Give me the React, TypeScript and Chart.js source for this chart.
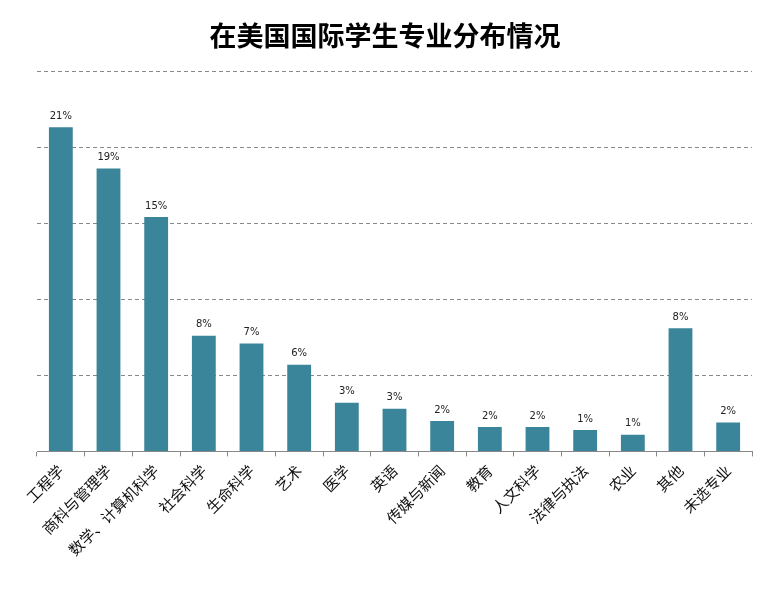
import React, { useEffect, useRef } from "react";
import { Chart, registerables } from "chart.js";

Chart.register(...registerables);

const TITLE = "在美国国际学生专业分布情况";
const categories = [
  "工程学",
  "商科与管理学",
  "数学、计算机科学",
  "社会科学",
  "生命科学",
  "艺术",
  "医学",
  "英语",
  "传媒与新闻",
  "教育",
  "人文科学",
  "法律与执法",
  "农业",
  "其他",
  "未选专业",
];
const shares = [21.3, 18.6, 15.4, 7.6, 7.1, 5.7, 3.2, 2.8, 2.0, 1.6, 1.6, 1.4, 1.1, 8.1, 1.9];
const BAR_COLOR = "rgb(58,133,153)";

const valueLabels = {
  id: "valueLabels",
  afterDatasetsDraw(chart: any) {
    const ctx = chart.ctx;
    const meta = chart.getDatasetMeta(0);
    const data = chart.data.datasets[0].data as number[];
    ctx.save();
    ctx.font = '10px "DejaVu Sans", Verdana, sans-serif';
    ctx.fillStyle = "#222";
    ctx.textAlign = "center";
    ctx.textBaseline = "bottom";
    meta.data.forEach((el: any, i: number) => {
      ctx.fillText(Math.round(data[i]) + "%", el.x, el.y - 6);
    });
    ctx.restore();
  },
};

export default function App() {
  const ref = useRef<HTMLCanvasElement>(null);
  useEffect(() => {
    document.body.style.margin = "0";
    const chart = new Chart(ref.current as HTMLCanvasElement, {
      type: "bar",
      data: {
        labels: categories,
        datasets: [
          {
            data: shares,
            backgroundColor: BAR_COLOR,
            barPercentage: 0.5,
            categoryPercentage: 1,
          },
        ],
      },
      options: {
        animation: false,
        responsive: false,
        layout: { padding: { left: 18, right: 22, top: 0, bottom: 44 } },
        plugins: {
          legend: { display: false },
          tooltip: { enabled: false },
          title: {
            display: true,
            text: TITLE,
            color: "#000",
            font: { family: '"Noto Sans CJK SC", sans-serif', size: 27, weight: "bold" },
            padding: { top: 20, bottom: 18.6 },
          },
        },
        scales: {
          x: {
            grid: { drawOnChartArea: false, drawTicks: true, tickLength: 5, color: "#888", offset: true },
            border: { display: true, color: "#888", width: 1 },
            ticks: {
              minRotation: 45,
              maxRotation: 45,
              color: "#111",
              font: { family: '"Noto Sans CJK SC", sans-serif', size: 15 },
              padding: 5,
            },
          },
          y: {
            min: 0,
            max: 25,
            ticks: { display: false, stepSize: 5 },
            grid: { color: "#888", drawTicks: false, lineWidth: 1 },
            border: { display: false, dash: [4, 3] },
            afterFit: (scale: any) => {
              scale.width = 19;
            },
          },
        },
      },
      plugins: [valueLabels],
    });
    return () => chart.destroy();
  }, []);
  return <canvas ref={ref} width={774} height={608} style={{ display: "block" }} />;
}
